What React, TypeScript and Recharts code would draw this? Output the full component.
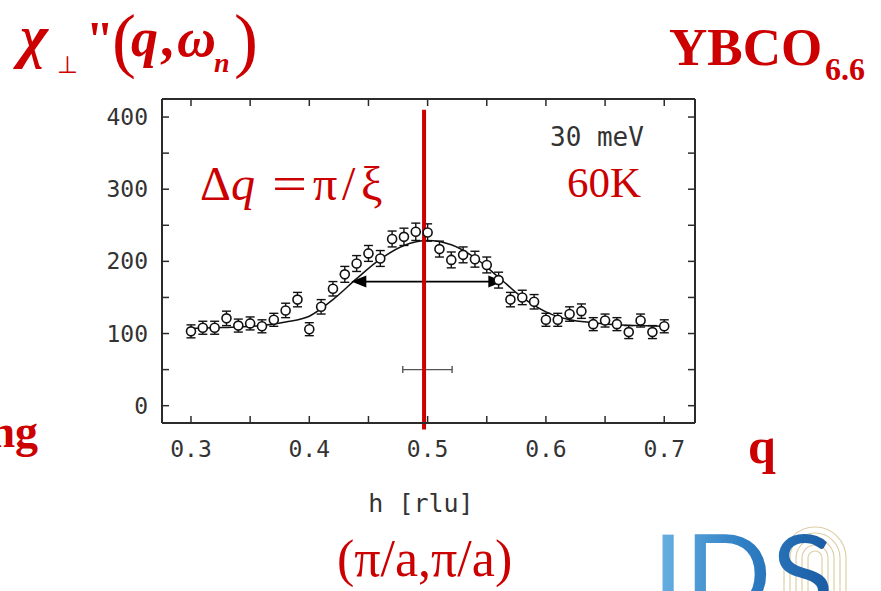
import React from "react";
import {
  ComposedChart,
  Line,
  Scatter,
  XAxis,
  YAxis,
  ErrorBar,
  ReferenceLine,
} from "recharts";

// measured points, h in r.l.u.
const hValues = [
  0.3, 0.31, 0.32, 0.33, 0.34, 0.35, 0.36, 0.37, 0.38, 0.39, 0.4, 0.41, 0.42,
  0.43, 0.44, 0.45, 0.46, 0.47, 0.48, 0.49, 0.5, 0.51, 0.52, 0.53, 0.54, 0.55,
  0.56, 0.57, 0.58, 0.59, 0.6, 0.61, 0.62, 0.63, 0.64, 0.65, 0.66, 0.67, 0.68,
  0.69, 0.7,
];
const chiValues = [
  103, 108, 108, 121, 111, 114, 110, 119, 132, 147, 106, 137, 162, 182, 197,
  211, 204, 231, 234, 241, 240, 217, 202, 209, 203, 195, 174, 147, 150, 144,
  119, 119, 127, 131, 113, 118, 113, 102, 118, 102, 110,
];
const errValues = [
  9, 9, 9, 10, 9, 9, 9, 9, 10, 10, 9, 10, 10, 11, 11, 11, 11, 11, 12, 12, 12,
  11, 11, 11, 11, 11, 11, 10, 10, 10, 9, 9, 10, 10, 9, 9, 9, 9, 9, 9, 9,
];

// fitted curve
const fitH = [
  0.3, 0.32, 0.34, 0.36, 0.38, 0.4, 0.42, 0.44, 0.46, 0.48, 0.5, 0.52, 0.54,
  0.56, 0.58, 0.6, 0.62, 0.64, 0.66, 0.68, 0.7,
];
const fitValues = [
  107, 108, 109, 111, 116, 124, 147, 176, 203, 222, 229, 223, 205, 178, 150,
  130, 119, 115, 112, 111, 110,
];

const xTicks = [0.3, 0.35, 0.4, 0.45, 0.5, 0.55, 0.6, 0.65, 0.7];
const yTicks = [0, 50, 100, 150, 200, 250, 300, 350, 400];

// annotations (in data units)
const widthArrow = { from: 0.4355, to: 0.564, level: 172 };
const resolution = { from: 0.479, to: 0.5207, level: 50 };
const centerH = 0.497;

const points = hValues.map((h, i) => ({ h, chi: chiValues[i], err: errValues[i] }));
const fit = fitH.map((h, i) => ({ h, fit: fitValues[i] }));

const INK = "#2b2b2b";
const RED = "#cc0000";
const TICK = 7;
const mono = "'DejaVu Sans Mono', monospace";
const serif = "'Liberation Serif', 'Times New Roman', serif";

const isMajor = (v: number, step: number) =>
  Math.abs(v / step - Math.round(v / step)) < 1e-6;

function BottomTick(p: any) {
  const v = p.payload.value;
  return (
    <g>
      <line x1={p.x} y1={p.y} x2={p.x} y2={p.y - TICK} stroke={INK} strokeWidth={1.5} />
      {isMajor(v, 0.1) && (
        <text x={p.x} y={p.y + 34} textAnchor="middle" fontFamily={mono} fontSize={23} fill="#333">
          {v.toFixed(1)}
        </text>
      )}
    </g>
  );
}

function TopTick(p: any) {
  return <line x1={p.x} y1={p.y} x2={p.x} y2={p.y + TICK} stroke={INK} strokeWidth={1.5} />;
}

function LeftTick(p: any) {
  const v = p.payload.value;
  return (
    <g>
      <line x1={p.x} y1={p.y} x2={p.x + TICK} y2={p.y} stroke={INK} strokeWidth={1.5} />
      {isMajor(v, 100) && (
        <text x={p.x - 14} y={p.y + 8} textAnchor="end" fontFamily={mono} fontSize={23} fill="#333">
          {v}
        </text>
      )}
    </g>
  );
}

function RightTick(p: any) {
  return <line x1={p.x} y1={p.y} x2={p.x - TICK} y2={p.y} stroke={INK} strokeWidth={1.5} />;
}

function Circle(p: any) {
  if (p.cx == null || p.cy == null) return null;
  return <circle cx={p.cx} cy={p.cy} r={4.5} fill="#fff" stroke="#111" strokeWidth={1.6} />;
}

function DoubleArrow(p: any) {
  const { x1, y1, x2, y2 } = p;
  const L = 15;
  const H = 6;
  return (
    <g>
      <line x1={x1 + L - 1} y1={y1} x2={x2 - L + 1} y2={y2} stroke="#000" strokeWidth={1.8} />
      <polygon points={`${x1},${y1} ${x1 + L},${y1 - H} ${x1 + L},${y1 + H}`} fill="#000" />
      <polygon points={`${x2},${y2} ${x2 - L},${y2 - H} ${x2 - L},${y2 + H}`} fill="#000" />
    </g>
  );
}

function ResBar(p: any) {
  const { x1, y1, x2, y2 } = p;
  return (
    <g stroke="#555" strokeWidth={1.4}>
      <line x1={x1} y1={y1} x2={x2} y2={y2} />
      <line x1={x1} y1={y1 - 3.5} x2={x1} y2={y1 + 3.5} />
      <line x1={x2} y1={y2 - 3.5} x2={x2} y2={y2 + 3.5} />
    </g>
  );
}

function Overlay() {
  return (
    <svg
      width={881}
      height={591}
      style={{ position: "absolute", left: 0, top: 0, pointerEvents: "none" }}
    >
      <defs>
        <linearGradient id="ids" x1="0" y1="0" x2="1" y2="0">
          <stop offset="0" stopColor="#6db4e4" />
          <stop offset="0.5" stopColor="#2f7fc4" />
          <stop offset="1" stopColor="#1a5aa2" />
        </linearGradient>
      </defs>

      {/* chi''(q, omega_n) */}
      <g fill={RED} fontFamily={serif}>
        <text x={20} y={56} fontSize={60} fontStyle="italic" fontWeight="bold">χ</text>
        <text x={57} y={73} fontSize={24}>⊥</text>
        <text x={86} y={56} fontSize={50} fontWeight="bold">"</text>
        <text x={112} y={64} fontSize={72}>(</text>
        <text x={131} y={56} fontSize={54} fontStyle="italic" fontWeight="bold">q</text>
        <text x={160} y={56} fontSize={54} fontWeight="bold">,</text>
        <text x={177} y={56} fontSize={54} fontStyle="italic" fontWeight="bold">ω</text>
        <text x={214} y={72} fontSize={28} fontStyle="italic" fontWeight="bold">n</text>
        <text x={234} y={64} fontSize={72}>)</text>
      </g>

      <g fill={RED} fontFamily={serif} fontWeight="bold">
        <text x={669} y={65} fontSize={53}>YBCO</text>
        <text x={825} y={80} fontSize={32}>6.6</text>
        <text x={38} y={447} fontSize={46} textAnchor="end">ng</text>
        <text x={748} y={463} fontSize={50}>q</text>
      </g>

      {/* Delta q = pi / xi */}
      <g fill={RED} fontFamily={serif} fontSize={48}>
        <text x={200} y={200}>Δ</text>
        <text x={231} y={200} fontStyle="italic">q</text>
        <text x={272} y={200} textLength={35} lengthAdjust="spacingAndGlyphs">=</text>
        <text x={313} y={200}>π</text>
        <text x={342} y={200}>/</text>
        <text x={361} y={200}>ξ</text>
      </g>

      <text x={567} y={197} fill={RED} fontFamily={serif} fontSize={43}>60K</text>
      <text x={337} y={576} fill={RED} fontFamily={serif} fontSize={52}>(π/a,π/a)</text>

      <text x={550} y={146} fill="#333" fontFamily={mono} fontSize={26}>30 meV</text>
      <text x={421} y={512} fill="#333" fontFamily={mono} fontSize={25} textAnchor="middle">
        h [rlu]
      </text>

      {/* logo */}
      <g fill="none" stroke="#dccfa6" strokeWidth={1.2}>
        {[31, 25, 19, 13, 7].map((r) => (
          <path
            key={r}
            d={`M ${815 - r} 600 L ${815 - r} 558 A ${r} ${r} 0 0 1 ${815 + r} 558 L ${815 + r} 600`}
          />
        ))}
      </g>
      <text
        x={652}
        y={614}
        fontFamily="Lato, 'Open Sans', sans-serif"
        fontSize={110}
        fill="url(#ids)"
        textLength={182}
        lengthAdjust="spacingAndGlyphs"
      >
        IDS
      </text>
    </svg>
  );
}

export default function App() {
  return (
    <div
      style={{
        position: "absolute",
        left: 0,
        top: 0,
        width: 881,
        height: 591,
        background: "#fff",
        overflow: "hidden",
      }}
    >
      <ComposedChart
        width={881}
        height={591}
        margin={{ top: 98, right: 185, bottom: 167, left: 161 }}
      >
        <XAxis
          xAxisId="b"
          dataKey="h"
          type="number"
          domain={[0.2755, 0.726]}
          ticks={xTicks}
          interval={0}
          allowDataOverflow
          height={1}
          tickSize={0}
          tickMargin={0}
          tickLine={false}
          tick={BottomTick}
          axisLine={{ stroke: INK, strokeWidth: 2 }}
        />
        <XAxis
          xAxisId="t"
          orientation="top"
          dataKey="h"
          type="number"
          domain={[0.2755, 0.726]}
          ticks={xTicks}
          interval={0}
          allowDataOverflow
          height={1}
          tickSize={0}
          tickMargin={0}
          tickLine={false}
          tick={TopTick}
          axisLine={{ stroke: INK, strokeWidth: 2 }}
        />
        <YAxis
          yAxisId="l"
          type="number"
          domain={[-24, 425]}
          ticks={yTicks}
          interval={0}
          allowDataOverflow
          width={1}
          tickSize={0}
          tickMargin={0}
          tickLine={false}
          tick={LeftTick}
          axisLine={{ stroke: INK, strokeWidth: 2 }}
        />
        <YAxis
          yAxisId="r"
          orientation="right"
          type="number"
          domain={[-24, 425]}
          ticks={yTicks}
          interval={0}
          allowDataOverflow
          width={1}
          tickSize={0}
          tickMargin={0}
          tickLine={false}
          tick={RightTick}
          axisLine={{ stroke: INK, strokeWidth: 2 }}
        />

        <Line
          xAxisId="b"
          yAxisId="l"
          data={fit}
          dataKey="fit"
          type="monotone"
          stroke="#111"
          strokeWidth={1.5}
          dot={false}
          isAnimationActive={false}
        />
        <Scatter
          xAxisId="b"
          yAxisId="l"
          data={points}
          dataKey="chi"
          shape={Circle}
          isAnimationActive={false}
        >
          <ErrorBar dataKey="err" direction="y" width={4.5} stroke="#111" strokeWidth={1.4} />
        </Scatter>

        <ReferenceLine
          xAxisId="b"
          yAxisId="l"
          segment={[
            { x: widthArrow.from, y: widthArrow.level },
            { x: widthArrow.to, y: widthArrow.level },
          ]}
          shape={DoubleArrow}
        />
        <ReferenceLine
          xAxisId="b"
          yAxisId="l"
          segment={[
            { x: resolution.from, y: resolution.level },
            { x: resolution.to, y: resolution.level },
          ]}
          shape={ResBar}
        />
        <ReferenceLine
          xAxisId="b"
          yAxisId="l"
          segment={[
            { x: centerH, y: 410 },
            { x: centerH, y: -33 },
          ]}
          ifOverflow="visible"
          stroke={RED}
          strokeWidth={4}
        />
      </ComposedChart>
      <Overlay />
    </div>
  );
}
